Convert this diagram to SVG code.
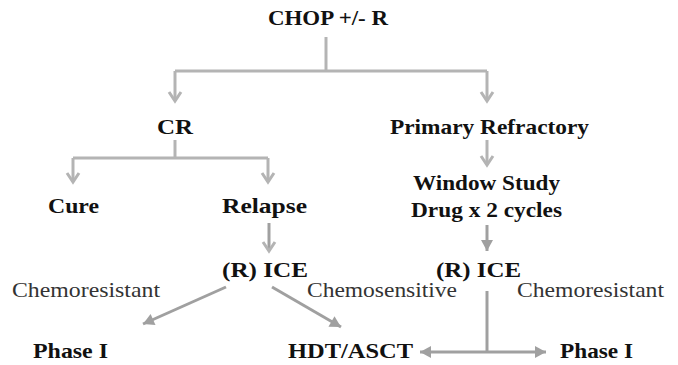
<svg xmlns="http://www.w3.org/2000/svg" width="678" height="365" viewBox="0 0 678 365">
<style>
.b{font-family:"Liberation Serif","Times New Roman",serif;font-weight:bold;font-size:22px;fill:#111;}
.r{font-family:"Liberation Serif","Times New Roman",serif;font-size:22px;fill:#333;}
.c{fill:none;stroke:#b4b4b4;stroke-width:3;}
.d{fill:none;stroke:#a0a0a0;stroke-width:3;}
</style>
<defs>
<marker id="open" markerUnits="userSpaceOnUse" markerWidth="16" markerHeight="16" viewBox="-12 -8 14 16" refX="0" refY="0" orient="auto">
<path d="M-9,-6 L0,0 L-9,6" fill="none" stroke="#b4b4b4" stroke-width="3"/>
</marker>
<marker id="fill" markerUnits="userSpaceOnUse" markerWidth="16" markerHeight="16" viewBox="-12 -8 14 16" refX="0" refY="0" orient="auto">
<path d="M-11,-6 L0,0 L-11,6 Z" fill="#a0a0a0"/>
</marker>
</defs>
<g id="connectors">
<path class="c" d="M326,37 V71"/>
<path class="c" d="M175,71 H487"/>
<path class="c" d="M175,71 V101" marker-end="url(#open)"/>
<path class="c" d="M487,71 V101" marker-end="url(#open)"/>
<path class="c" d="M175,140 V158"/>
<path class="c" d="M73,158 H268"/>
<path class="c" d="M73,158 V182" marker-end="url(#open)"/>
<path class="c" d="M268,158 V182" marker-end="url(#open)"/>
<path class="c" d="M487,140 V165" marker-end="url(#open)"/>
<path class="d" d="M269,223 V251" marker-end="url(#open)"/>
<path class="d" d="M487,225 V251" marker-end="url(#fill)"/>
<path class="d" d="M226,287 L143,324" marker-end="url(#fill)"/>
<path class="d" d="M272,287 L341,327" marker-end="url(#fill)"/>
<path class="d" d="M487,291 V352"/>
<path class="d" d="M487,352 H420" marker-end="url(#fill)"/>
<path class="d" d="M487,352 H546" marker-end="url(#fill)"/>
</g>
<g id="chop"><text class="b" x="268" y="25" textLength="120" lengthAdjust="spacingAndGlyphs">CHOP +/- R</text></g>
<g id="cr"><text class="b" x="157" y="134" textLength="36" lengthAdjust="spacingAndGlyphs">CR</text></g>
<g id="primary"><text class="b" x="390" y="134" textLength="199" lengthAdjust="spacingAndGlyphs">Primary Refractory</text></g>
<g id="cure"><text class="b" x="48" y="213" textLength="51" lengthAdjust="spacingAndGlyphs">Cure</text></g>
<g id="relapse"><text class="b" x="222" y="213" textLength="85" lengthAdjust="spacingAndGlyphs">Relapse</text></g>
<g id="window">
<text class="b" x="413" y="190" textLength="147" lengthAdjust="spacingAndGlyphs">Window Study</text>
<text class="b" x="411" y="217" textLength="151" lengthAdjust="spacingAndGlyphs">Drug x 2 cycles</text>
</g>
<g id="ice1"><text class="b" x="222" y="277" textLength="86" lengthAdjust="spacingAndGlyphs">(R) ICE</text></g>
<g id="ice2"><text class="b" x="436" y="277" textLength="85" lengthAdjust="spacingAndGlyphs">(R) ICE</text></g>
<g id="labels">
<text class="r" x="12" y="297" textLength="148" lengthAdjust="spacingAndGlyphs">Chemoresistant</text>
<text class="r" x="307" y="297" textLength="150" lengthAdjust="spacingAndGlyphs">Chemosensitive</text>
<text class="r" x="517" y="297" textLength="147" lengthAdjust="spacingAndGlyphs">Chemoresistant</text>
</g>
<g id="phase1"><text class="b" x="33" y="358" textLength="75" lengthAdjust="spacingAndGlyphs">Phase I</text></g>
<g id="hdt"><text class="b" x="288" y="358" textLength="125" lengthAdjust="spacingAndGlyphs">HDT/ASCT</text></g>
<g id="phase2"><text class="b" x="560" y="358" textLength="73" lengthAdjust="spacingAndGlyphs">Phase I</text></g>
</svg>
